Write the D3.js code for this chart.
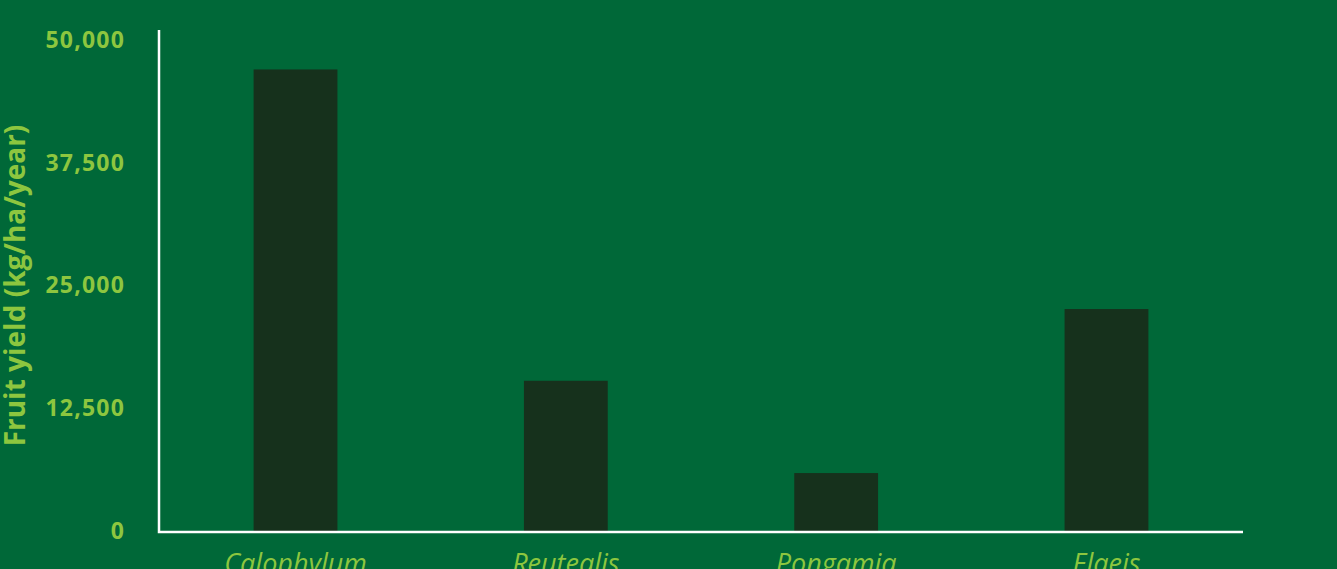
<!DOCTYPE html>
<html>
<head>
<meta charset="utf-8">
<script src="https://cdn.jsdelivr.net/npm/d3@7"></script>
<style>
  body { margin: 0; background: #006838; overflow: hidden; }
  text { font-family: "Open Sans", sans-serif; fill: #8dc63f; }
</style>
</head>
<body>
<div id="main"></div>
<script>
//data
const genera = ['Calophylum', 'Reutealis', 'Pongamia', 'Elaeis'];
const fruitYield = [47000, 15300, 5900, 22600];
const yTicks = [0, 12500, 25000, 37500, 50000];

//constants
const W = 1337, H = 569;
const margin = {top: 40, right: 94, bottom: 38, left: 159};
const w = W - margin.left - margin.right;
const h = H - margin.top - margin.bottom;

const x = d3.scaleBand()
  .domain(genera)
  .range([0, w])
  .paddingInner(0.69)
  .paddingOuter(0.35);

const y = d3.scaleLinear()
  .domain([0, 50000])
  .range([h, 0]);

const svg = d3.select('#main')
  .append('svg')
  .attr('width', W)
  .attr('height', H)
  .append('g')
  .attr('transform', `translate(${margin.left}, ${margin.top})`);

svg.selectAll('rect')
  .data(genera)
  .enter()
  .append('rect')
  .attr('x', d => x(d))
  .attr('y', (d, i) => y(fruitYield[i]))
  .attr('width', x.bandwidth())
  .attr('height', (d, i) => h - y(fruitYield[i]))
  .attr('fill', '#16311c');

//y axis
const yAxis = svg.append('g')
  .call(d3.axisLeft(y).tickValues(yTicks).tickFormat(d3.format(',')).tickSize(0).tickPadding(34));
yAxis.select('.domain').remove();
yAxis.selectAll('text')
  .style('font-size', '23px')
  .style('font-weight', 'bold')
  .style('letter-spacing', '1.2px')
  .style('fill', '#8dc63f');

//axis lines
svg.append('path')
  .attr('d', `M0,-10V${h + 1}H${w}`)
  .attr('fill', 'none')
  .attr('stroke', '#fff')
  .attr('stroke-width', 2.5);

//x axis labels
const xAxis = svg.append('g')
  .attr('transform', `translate(0, ${h})`)
  .call(d3.axisBottom(x).tickSize(0).tickPadding(23));
xAxis.select('.domain').remove();
xAxis.selectAll('text')
  .style('font-size', '27px')
  .style('font-style', 'italic')
  .style('fill', '#8dc63f');

//y label
svg.append('text')
  .attr('transform', `translate(${-144}, ${h / 2}) rotate(-90)`)
  .attr('text-anchor', 'middle')
  .attr('dy', '0.35em')
  .style('font-size', '28px')
  .style('font-weight', 'bold')
  .text('Fruit yield (kg/ha/year)');
</script>
</body>
</html>
